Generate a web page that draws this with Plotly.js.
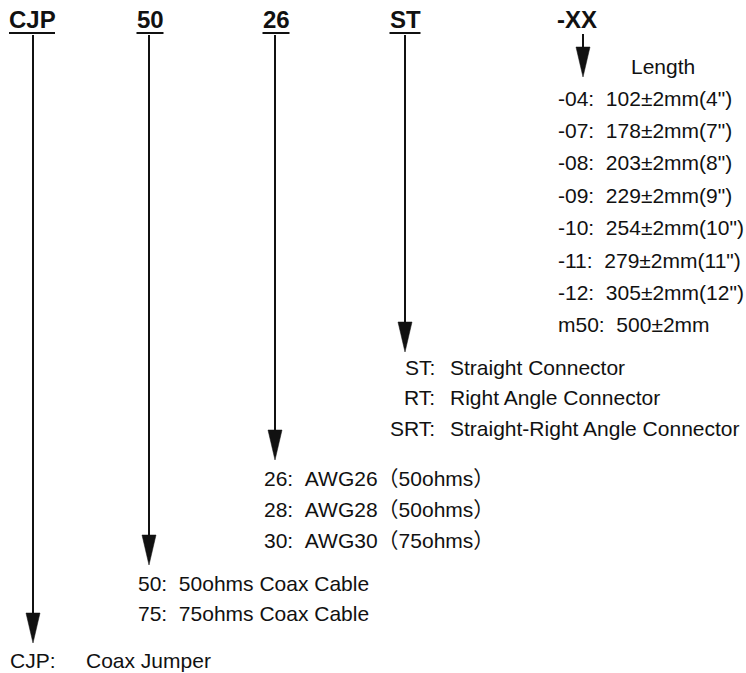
<!DOCTYPE html>
<html>
<head>
<meta charset="utf-8">
<script src="https://cdn.plot.ly/plotly-3.0.1.min.js"></script>
<style>html,body{margin:0;padding:0;background:#fff;}#chart{width:746px;height:673px;}</style>
</head>
<body>
<div id="chart"></div>
<script>
// ---- content ----
const headers = ['CJP', '50', '26', 'ST', '-XX'];
const lengthTitle = 'Length';
const lengthCodes = ['-04', '-07', '-08', '-09', '-10', '-11', '-12', 'm50'];
const lengthValues = ['102±2mm(4")', '178±2mm(7")', '203±2mm(8")', '229±2mm(9")',
                      '254±2mm(10")', '279±2mm(11")', '305±2mm(12")', '500±2mm'];
const connectorCodes = ['ST', 'RT', 'SRT'];
const connectorNames = ['Straight Connector', 'Right Angle Connector', 'Straight-Right Angle Connector'];
const wireCodes = ['26', '28', '30'];
const wireNames = ['AWG26（50ohms）', 'AWG28（50ohms）', 'AWG30（75ohms）'];
const cableCodes = ['50', '75'];
const cableNames = ['50ohms Coax Cable', '75ohms Coax Cable'];
const seriesCodes = ['CJP'];
const seriesNames = ['Coax Jumper'];

// ---- layout constants (positions in pixel-like axis units) ----
const FONT = '"Liberation Sans", Arial, "Noto Sans CJK SC", sans-serif';
const INK = '#111111';
const BODY = 21, HEAD = 24;
const headX = [32, 150, 276, 405, 577];
const underlineHalf = [23, 13.5, 13.5, 15.5, 0];
const headY = 19, underlineY = 33;
const arrowX = [33, 149, 275, 405, 583];
const arrowTop = [35, 35, 35, 35, 34];
const arrowTip = [643, 565, 460, 352, 77];
const headLen = 30, headHalfW = 7;

const annotations = [];
const shapes = [];
function txt(x, y, text, anchor, size, bold) {
  annotations.push({
    x: x, y: y, xref: 'x', yref: 'y', showarrow: false,
    xanchor: anchor, yanchor: 'middle',
    text: bold ? '<b>' + text + '</b>' : text,
    font: {family: FONT, size: size, color: INK}
  });
}
const sp = ':\u00a0\u00a0';

// headers + underlines + arrows
headers.forEach((h, i) => {
  txt(headX[i], headY, h, 'center', HEAD, true);
  if (underlineHalf[i] > 0) {
    shapes.push({type: 'line', xref: 'x', yref: 'y',
      x0: headX[i] - underlineHalf[i], x1: headX[i] + underlineHalf[i],
      y0: underlineY, y1: underlineY, line: {color: INK, width: 2}});
  }
  const x = arrowX[i], t = arrowTip[i];
  shapes.push({type: 'line', xref: 'x', yref: 'y', x0: x, x1: x,
    y0: arrowTop[i], y1: t - headLen + 2, line: {color: INK, width: 2}});
  shapes.push({type: 'path', xref: 'x', yref: 'y',
    path: `M ${x - headHalfW} ${t - headLen} L ${x + headHalfW} ${t - headLen} L ${x} ${t} Z`,
    fillcolor: INK, line: {color: INK, width: 0.5}});
});

// Length group
txt(663, 66, lengthTitle, 'center', BODY, false);
lengthCodes.forEach((c, i) => txt(556, 98 + i * 32.4, c + sp + lengthValues[i], 'left', BODY, false));

// Connector group
connectorCodes.forEach((c, i) => {
  txt(437, 367 + i * 30.5, c + ':', 'right', BODY, false);
  txt(448, 367 + i * 30.5, connectorNames[i], 'left', BODY, false);
});

// Wire group
wireCodes.forEach((c, i) => txt(262, 478 + i * 31, c + sp + wireNames[i], 'left', BODY, false));

// Cable group
cableCodes.forEach((c, i) => txt(136, 583 + i * 30, c + sp + cableNames[i], 'left', BODY, false));

// Series
seriesCodes.forEach((c, i) => {
  txt(8, 660, c + ':', 'left', BODY, false);
  txt(84, 660, seriesNames[i], 'left', BODY, false);
});

const layout = {
  width: 746, height: 673,
  margin: {l: 0, r: 0, t: 0, b: 0, pad: 0},
  paper_bgcolor: '#ffffff', plot_bgcolor: '#ffffff',
  showlegend: false,
  xaxis: {range: [0, 746], visible: false, fixedrange: true},
  yaxis: {range: [673, 0], visible: false, fixedrange: true},
  annotations: annotations,
  shapes: shapes
};
Plotly.newPlot('chart', [{x: [], y: [], type: 'scatter', mode: 'markers', hoverinfo: 'skip'}], layout,
  {staticPlot: true, displayModeBar: false});
</script>
</body>
</html>
